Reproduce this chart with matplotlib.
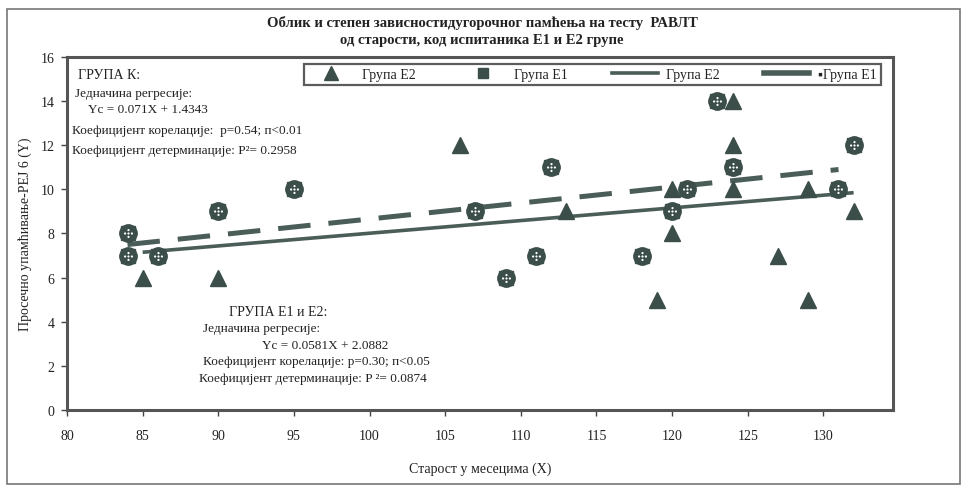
import matplotlib
matplotlib.use("Agg")
import matplotlib.pyplot as plt
from matplotlib.lines import Line2D
from matplotlib.path import Path
from matplotlib.patches import Rectangle
from matplotlib.font_manager import FontProperties

# Data
e2_age = [85, 90, 106, 113, 119, 120, 120, 124, 124, 124, 127, 129, 129, 132]
e2_score = [6, 6, 12, 9, 5, 8, 10, 14, 12, 10, 7, 10, 5, 9]

e1_age = [84, 84, 86, 90, 95, 107, 109, 111, 112, 118, 120, 121, 123, 124, 131, 132]
e1_score = [8, 7, 7, 9, 10, 9, 6, 7, 11, 7, 9, 10, 14, 11, 10, 12]

# regression line end points (as drawn)
fit_e2_x = [85, 132]
fit_e2_y = [7.15, 9.85]
fit_e1_x = [84, 131]
fit_e1_y = [7.5, 10.9]

xticks = [80, 85, 90, 95, 100, 105, 110, 115, 120, 125, 130]
yticks = [0, 2, 4, 6, 8, 10, 12, 14, 16]

plt.rcParams['font.family'] = ['Liberation Serif', 'DejaVu Sans']

mark_col = '#3b4e4a'
line_col = '#4a5d59'
txt_col = '#222222'

fig = plt.figure(figsize=(9.64, 4.89), dpi=100)
ax = fig.add_axes([0.0695, 0.1595, 0.8568, 0.7219])

# regression lines
ax.plot(fit_e2_x, fit_e2_y, color=line_col, lw=2.6, solid_capstyle='butt', zorder=2)
ax.plot(fit_e1_x, fit_e1_y, color=line_col, lw=3.6, dashes=(6.5, 3.6),
        dash_capstyle='butt', zorder=2)

# group E2 triangles
ax.plot(e2_age, e2_score, '^', ms=11, color=mark_col, mec=mark_col, zorder=3)

# group E1 patterned markers
dots = Path.make_compound_path(*[Path.circle((dx, dy), 0.13)
                                 for dx, dy in [(0, 0), (0.4, 0), (-0.4, 0), (0, 0.4), (0, -0.4)]])
ax.plot(e1_age, e1_score, 'o', ms=12.5, color=mark_col, zorder=4)
ax.plot(e1_age, e1_score, 's', ms=9.5, color=mark_col, zorder=4)
ax.plot(e1_age, e1_score, ls='none', marker=dots, ms=6.5, color='white', mew=0, zorder=5)

ax.set_xlim(80, 134.6)
ax.set_ylim(0, 16)
ax.set_xticks(xticks)
ax.set_yticks(yticks)
ax.tick_params(direction='out', length=4, width=1, colors='#444', labelsize=10,
               labelcolor=txt_col)
ax.tick_params(axis='x', pad=10)
ax.tick_params(axis='y', pad=5)
for s in ax.spines.values():
    s.set_linewidth(2.2)
    s.set_color('#555555')

ax.set_xlabel('Старост у месецима (X)', fontsize=10, color=txt_col, labelpad=14)
ax.set_ylabel('Просечно упамћивање-РЕЈ 6 (Y)', fontsize=10, color=txt_col, labelpad=6)

# legend
handles = [
    Line2D([], [], ls='none', marker='^', ms=10, color=mark_col),
    Line2D([], [], ls='none', marker='s', ms=7, color=mark_col),
    Line2D([], [], color=line_col, lw=2.6),
    Line2D([], [], color=line_col, lw=4),
]
labels = ['Група E2', 'Група E1', 'Група E2', '▪Група E1']
leg = ax.legend(handles, labels, ncol=4, loc='lower left',
                bbox_to_anchor=(0.287, 0.921, 0.698, 0.068), mode='expand',
                borderaxespad=0, handlelength=3.3, handletextpad=0.6,
                frameon=True, fancybox=False, edgecolor='#333333',
                prop=FontProperties(family=['Liberation Serif', 'DejaVu Sans'], size=10),
                borderpad=0.3)
leg.get_frame().set_linewidth(1.6)
for t in leg.get_texts():
    t.set_color(txt_col)

# annotation: group K
fs = 9.5
ax.text(80.7, 15.2, 'ГРУПА К:', fontsize=fs + 0.5, color=txt_col, va='center')
ax.text(80.5, 14.35, 'Једначина регресије:', fontsize=fs, color=txt_col, va='center')
ax.text(81.4, 13.65, 'Yc = 0.071X + 1.4343', fontsize=fs, color=txt_col, va='center')
ax.text(80.3, 12.7, 'Коефицијент корелације:  p=0.54; п<0.01', fontsize=fs,
        color=txt_col, va='center')
ax.text(80.3, 11.8, 'Коефицијент детерминације: P²= 0.2958', fontsize=fs,
        color=txt_col, va='center')

# annotation: group E1 and E2
ax.text(90.7, 4.45, 'ГРУПА E1 и E2:', fontsize=fs + 0.5, color=txt_col, va='center')
ax.text(89.0, 3.7, 'Једначина регресије:', fontsize=fs, color=txt_col, va='center')
ax.text(92.9, 2.95, 'Yc = 0.0581X + 2.0882', fontsize=fs, color=txt_col, va='center')
ax.text(89.0, 2.2, 'Коефицијент корелације: p=0.30; п<0.05', fontsize=fs,
        color=txt_col, va='center')
ax.text(88.7, 1.45, 'Коефицијент детерминације: P ²= 0.0874', fontsize=fs,
        color=txt_col, va='center')

# title
fig.text(0.5, 0.953, 'Облик и степен зависностидугорочног памћења на тесту  РАВЛТ',
         ha='center', va='center', fontsize=10.5, fontweight='bold', color=txt_col)
fig.text(0.5, 0.918, 'од старости, код испитаника E1 и E2 групе',
         ha='center', va='center', fontsize=10.5, fontweight='bold', color=txt_col)

# outer frame
fig.patches.append(Rectangle((7 / 964, 1 - 485 / 489), 953 / 964, 475 / 489,
                             transform=fig.transFigure, fill=False,
                             edgecolor='#777777', lw=1.2))

fig.savefig('out.png', dpi=100)
